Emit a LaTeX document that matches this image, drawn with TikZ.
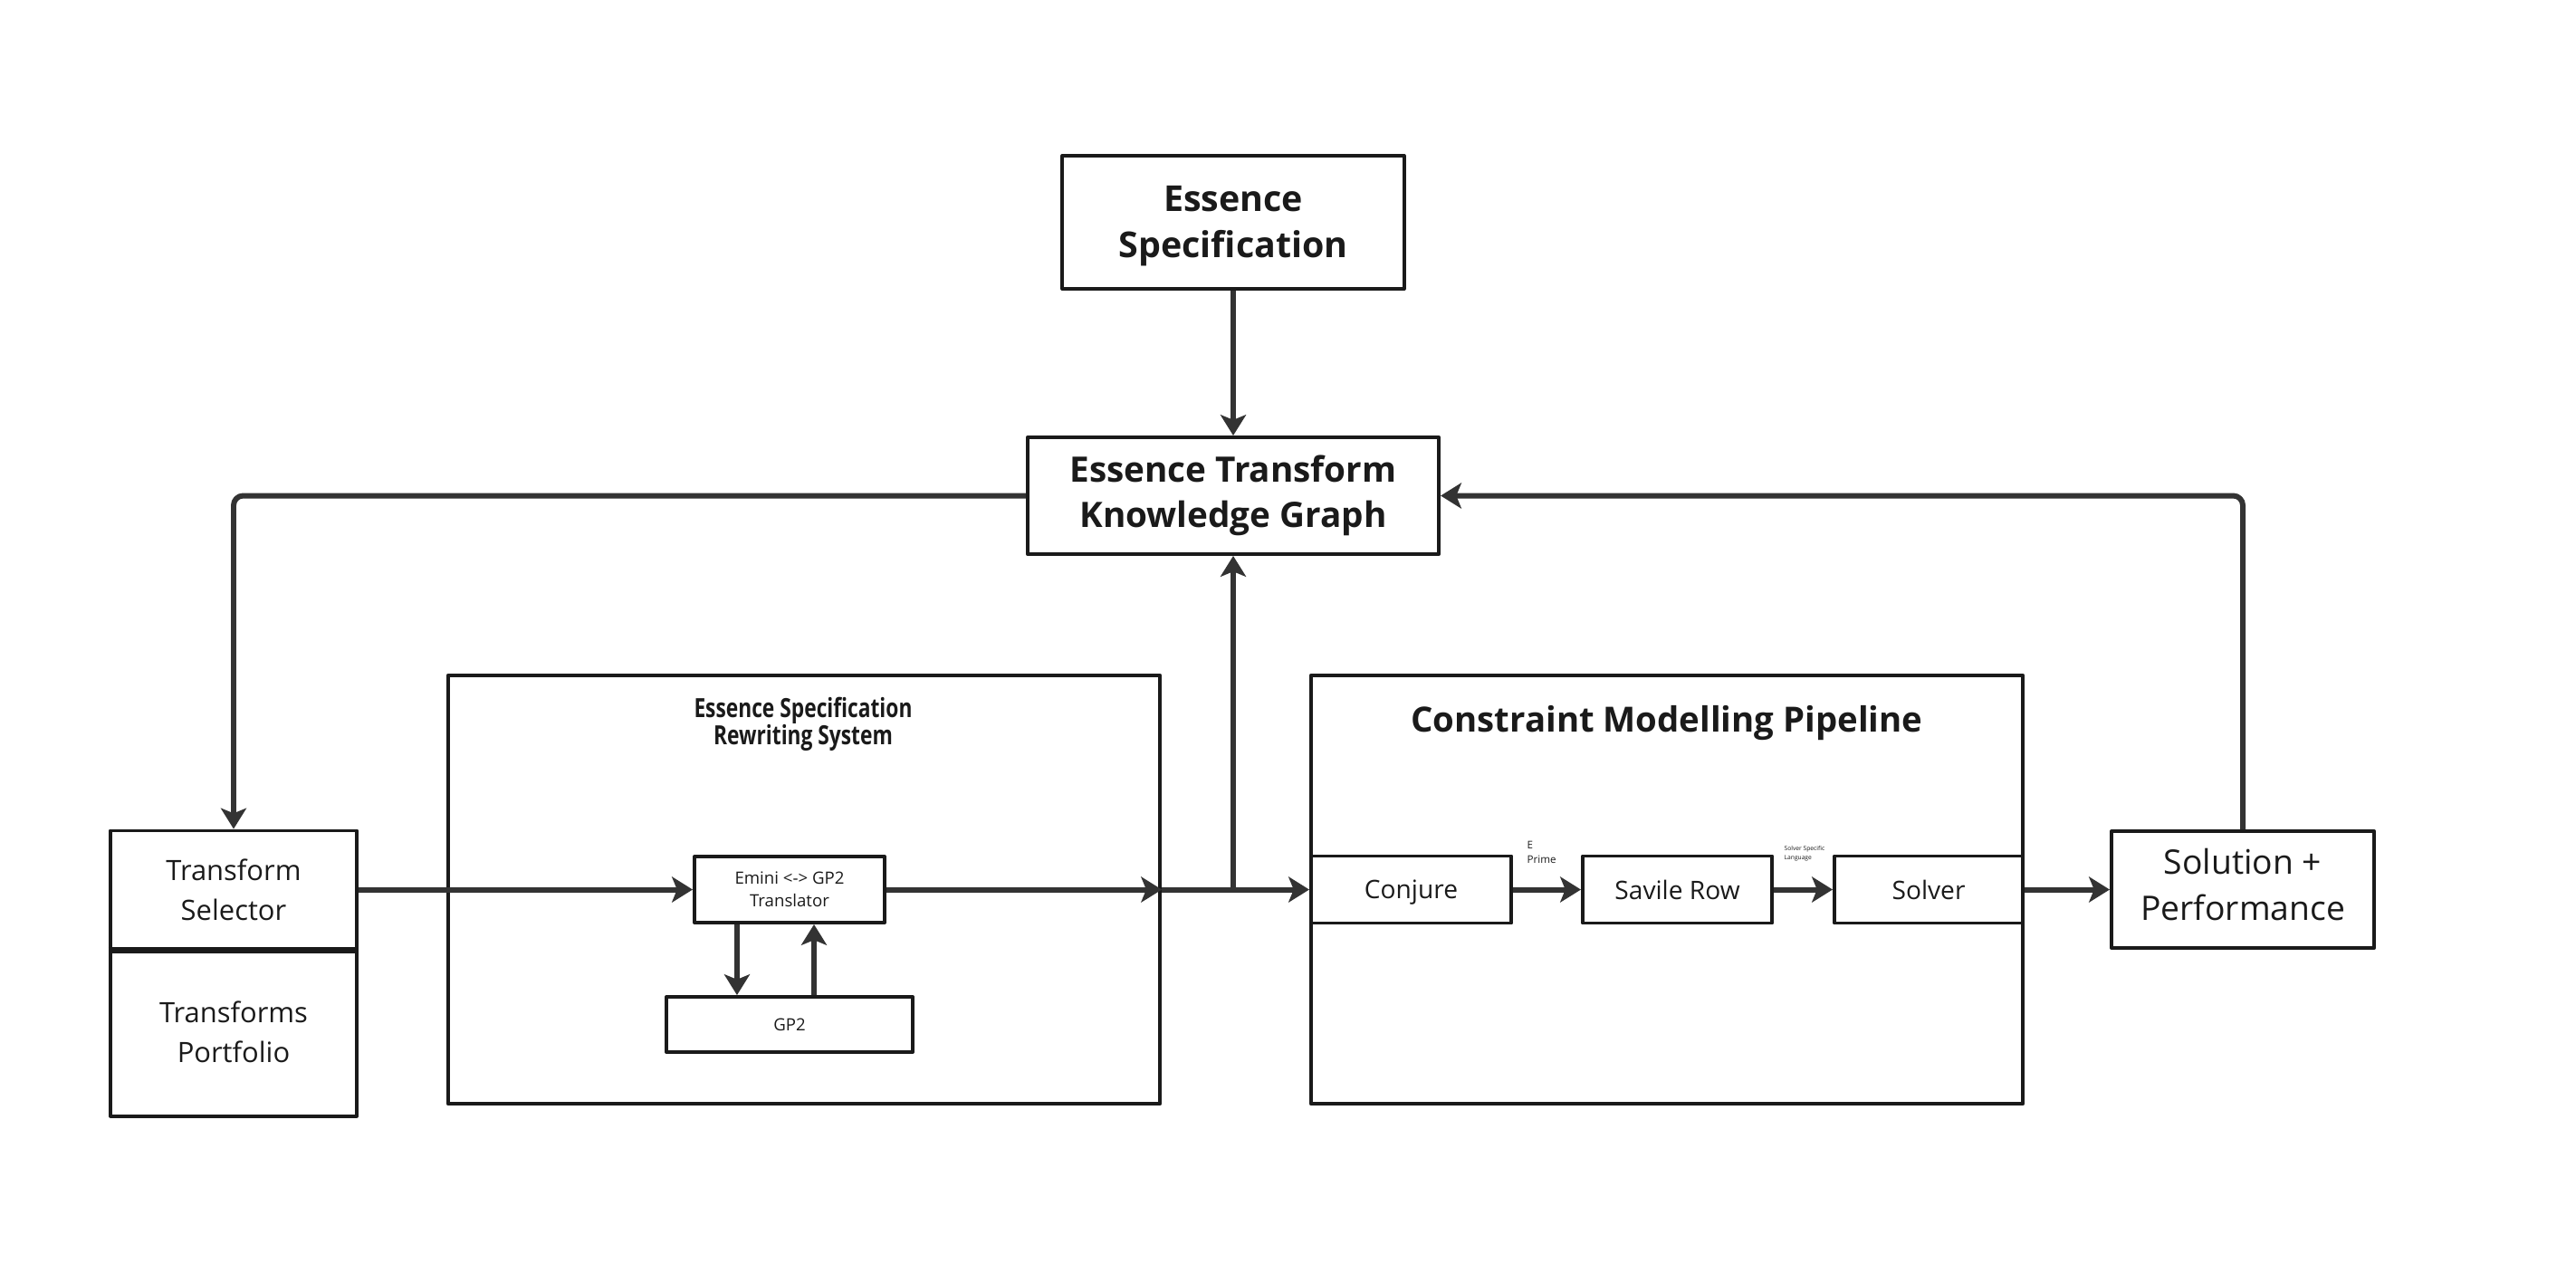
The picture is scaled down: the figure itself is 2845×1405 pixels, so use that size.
\documentclass[tikz,border=0pt]{standalone}
\usepackage{fontspec}
\setmainfont{Open Sans}
\newfontfamily\condfont[FakeStretch=0.78]{Open Sans}
\usetikzlibrary{arrows.meta,positioning}
\definecolor{linecol}{HTML}{1A1A1A}
\definecolor{arrcol}{HTML}{333333}
\begin{document}
\begin{tikzpicture}[x=0.01cm, y=-0.01cm, line join=round,
	>={Stealth[length=6.5pt,width=8pt,inset=1.6pt]},
	box/.style={draw=linecol, line width=1.1pt, inner sep=0pt, align=center, text=linecol},
	flow/.style={->, draw=arrcol, line width=1.7pt},
	note/.style={inner sep=0pt, align=left, text=linecol}]
	\useasboundingbox (0,0) rectangle (2845,1405);
	% top boxes
	\node[box, minimum width=3.77cm, minimum height=1.47cm] (spec) at (1362,245.5) {};
	\node[note, align=center, font=\fontsize{11.2}{14.5}\selectfont\bfseries] (spectext) at (1362,250) {Essence\\Specification};
	\node[box, minimum width=4.54cm, minimum height=1.29cm, font=\fontsize{11}{14.2}\selectfont\bfseries] (kg) at (1362,547.5) {Essence Transform\\Knowledge Graph};
	% frames
	\node[box, minimum width=7.86cm, minimum height=4.73cm] (rws) at (888,982.5) {};
	\node[box, minimum width=7.86cm, minimum height=4.73cm] (cmp) at (1841,982.5) {};
	\node[note, align=center, font=\condfont\fontsize{8.3}{8.6}\selectfont\bfseries] (rwstitle) at (887,800) {Essence Specification\\Rewriting System};
	\node[note, font=\fontsize{10.9}{14}\selectfont\bfseries] (cmptitle) at (1841,799) {Constraint Modelling Pipeline};
	% left
	\node[box, minimum width=2.72cm, minimum height=1.30cm, font=\fontsize{8.8}{12.5}\selectfont] (sel) at (258,982.5) {Transform\\Selector};
	\node[box, minimum width=2.72cm, minimum height=1.85cm, font=\fontsize{8.8}{12.5}\selectfont, below=-1.1pt of sel] (port) {Transforms\\Portfolio};
	\draw[draw=linecol, line width=2pt] (sel.south west) -- (sel.south east);
	% rewriting system
	\node[box, minimum width=2.10cm, minimum height=0.73cm, font=\fontsize{5.3}{7}\selectfont] (trans) at (872,982.5) {Emini <-> GP2\\Translator};
	\node[box, minimum width=2.72cm, minimum height=0.61cm, font=\fontsize{5.3}{7}\selectfont] (gp2) at (872,1131.5) {GP2};
	% pipeline
	\node[box, minimum width=2.21cm, minimum height=0.74cm, text depth=0pt, font=\fontsize{8}{10}\selectfont] (conj) at (1558.5,982.5) {Conjure};
	\node[box, minimum width=2.09cm, minimum height=0.74cm, text depth=0pt, font=\fontsize{8}{10}\selectfont] (savile) at (1852.5,982.5) {Savile Row};
	\node[box, minimum width=2.08cm, minimum height=0.74cm, text depth=0pt, font=\fontsize{8}{10}\selectfont] (solver) at (2130,982.5) {Solver};
	\node[note, anchor=north west, font=\fontsize{3.3}{4.8}\selectfont] (eprime) at (1686,928) {E\\Prime};
	\node[note, anchor=north west, font=\fontsize{1.9}{2.8}\selectfont] (ssl) at (1970,934) {Solver Specific\\Language};
	% right
	\node[box, minimum width=2.90cm, minimum height=1.29cm] (sol) at (2477,982.5) {};
	\node[note, align=center, font=\fontsize{10.6}{14.5}\selectfont] (soltext) at (2477,977) {Solution +\\Performance};
	% connectors
	\coordinate (jn) at (kg.south |- rws.east);
	\draw[flow] (spec) -- (kg);
	\draw[flow] (sel.east) -- (trans.west);
	\draw[flow] (trans.east) -- (rws.east);
	\draw[flow] ([xshift=-0.58cm]trans.south) -- ([xshift=-0.58cm]trans.south |- gp2.north);
	\draw[flow] ([xshift=0.27cm]trans.south |- gp2.north) -- ([xshift=0.27cm]trans.south);
	\draw[flow] (rws.east) -- (conj.west);
	\draw[flow] (jn) -- (kg.south);
	\draw[flow] (conj) -- (savile);
	\draw[flow] (savile) -- (solver);
	\draw[flow] (cmp.east) -- (sol.west);
	\draw[flow, rounded corners=3pt] (kg.west) -| (sel.north);
	\draw[flow, rounded corners=3pt] (sol.north) |- (kg.east);
\end{tikzpicture}
\end{document}
